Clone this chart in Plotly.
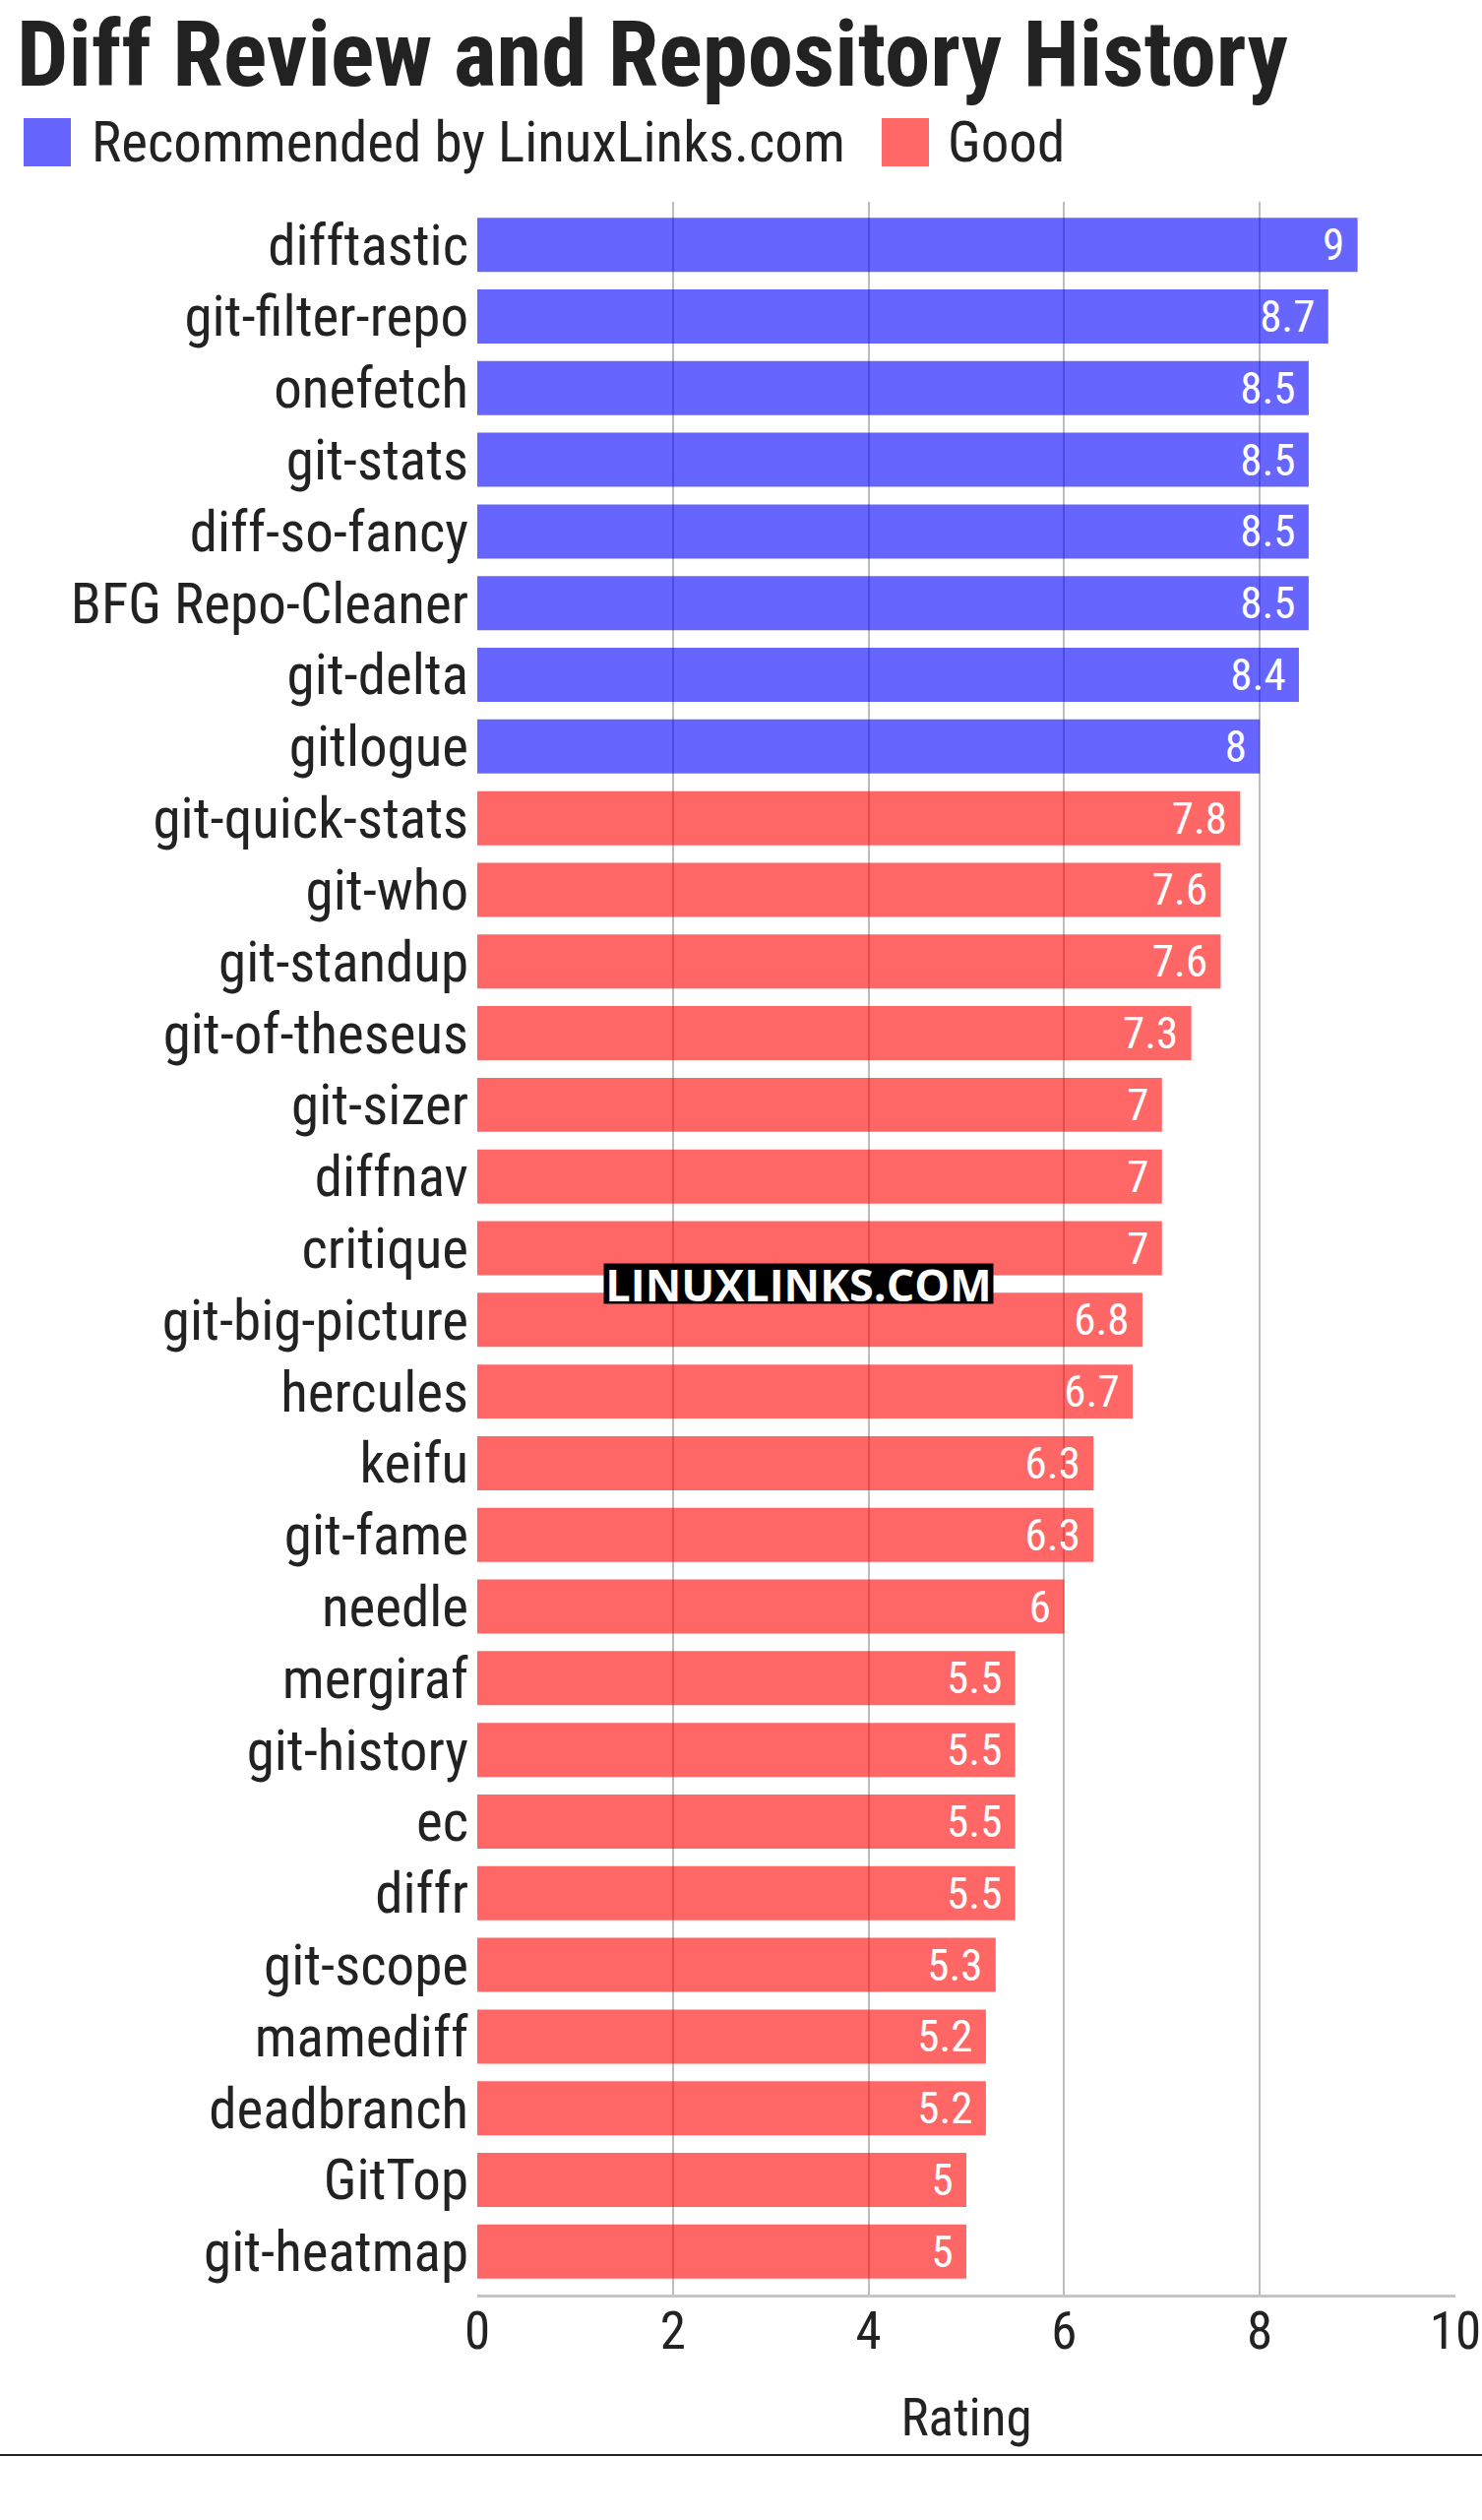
import plotly.graph_objects as go

# ---- data ----
rec_names = ["difftastic", "git-filter-repo", "onefetch", "git-stats", "diff-so-fancy",
             "BFG Repo-Cleaner", "git-delta", "gitlogue"]
rec_values = [9, 8.7, 8.5, 8.5, 8.5, 8.5, 8.4, 8]

good_names = ["git-quick-stats", "git-who", "git-standup", "git-of-theseus", "git-sizer",
              "diffnav", "critique", "git-big-picture", "hercules", "keifu", "git-fame",
              "needle", "mergiraf", "git-history", "ec", "diffr", "git-scope", "mamediff",
              "deadbranch", "GitTop", "git-heatmap"]
good_values = [7.8, 7.6, 7.6, 7.3, 7, 7, 7, 6.8, 6.7, 6.3, 6.3, 6, 5.5, 5.5, 5.5, 5.5,
               5.3, 5.2, 5.2, 5, 5]

x_ticks = [0, 2, 4, 6, 8, 10]
series_names = ["Recommended by LinuxLinks.com", "Good"]
title_text = "Diff Review and Repository History"
x_title = "Rating"
watermark = "LINUXLINKS.COM"

# ---- layout geometry ----
W, H = 1506, 2560
L, R, T, B = 485, 27, 205, 229
FONT = "Roboto Condensed, Liberation Sans Narrow, DejaVu Sans Condensed, Roboto, sans-serif"
TXT = "#222222"
BLUE = "rgba(0,0,255,0.6)"
RED = "rgba(255,0,0,0.6)"


def px_x(px):
    return (px - L) / (W - L - R)


def px_y(py):
    return (H - B - py) / (H - T - B)


all_names = rec_names + good_names
n = len(all_names)

fig = go.Figure()
for names, vals, col, nm in [(rec_names, rec_values, BLUE, series_names[0]),
                             (good_names, good_values, RED, series_names[1])]:
    fig.add_trace(go.Bar(
        y=names, x=vals, orientation="h", name=nm,
        marker=dict(color=col, line=dict(width=0)),
        text=[f"{v:g}\u00a0" for v in vals],
        textposition="inside", insidetextanchor="end", textangle=0,
        constraintext="none",
        textfont=dict(color="white", size=45, family=FONT),
        showlegend=False,
    ))

annotations = [
    dict(text=f"<b>{title_text}</b>", x=px_x(16), y=px_y(0), xref="paper", yref="paper",
         xanchor="left", yanchor="top", showarrow=False, borderpad=0,
         font=dict(size=93, color=TXT, family=FONT)),
    dict(text=series_names[0], x=px_x(91), y=px_y(145), xref="paper", yref="paper",
         xanchor="left", yanchor="middle", showarrow=False,
         font=dict(size=57, color=TXT, family=FONT)),
    dict(text=series_names[1], x=px_x(961), y=px_y(145), xref="paper", yref="paper",
         xanchor="left", yanchor="middle", showarrow=False,
         font=dict(size=57, color=TXT, family=FONT)),
    dict(text=f"<b>{watermark}</b>", x=px_x(811), y=px_y(1304), xref="paper", yref="paper",
         xanchor="center", yanchor="middle", showarrow=False, bgcolor="black",
         borderpad=0, width=395, height=40,
         font=dict(size=45, color="white", family="Open Sans, Ubuntu, sans-serif")),
]

shapes = [
    dict(type="rect", xref="paper", yref="paper", x0=px_x(24), x1=px_x(72),
         y0=px_y(120), y1=px_y(169), fillcolor=BLUE, line=dict(width=0)),
    dict(type="rect", xref="paper", yref="paper", x0=px_x(896), x1=px_x(944),
         y0=px_y(120), y1=px_y(169), fillcolor=RED, line=dict(width=0)),
    dict(type="line", xref="paper", yref="paper", x0=px_x(0), x1=px_x(W),
         y0=px_y(2494), y1=px_y(2494), line=dict(color="#222222", width=2)),
]

fig.update_layout(
    width=W, height=H,
    margin=dict(l=L, r=R, t=T, b=B, pad=0, autoexpand=False),
    paper_bgcolor="white", plot_bgcolor="white",
    barmode="overlay", bargap=0.245,
    font=dict(family=FONT, color=TXT),
    annotations=annotations, shapes=shapes,
    showlegend=False,
    xaxis=dict(range=[0, 10], tickvals=x_ticks, showgrid=True, gridcolor="#bdbdbd",
               gridwidth=2, zeroline=False, showline=True, linecolor="#c4c4c4",
               linewidth=3, ticks="", tickfont=dict(size=53, color=TXT),
               ticklabelstandoff=-12, automargin=False,
               title=dict(text=x_title, font=dict(size=53, color=TXT), standoff=40),
               fixedrange=True),
    yaxis=dict(categoryorder="array", categoryarray=all_names,
               range=[n - 1 + 0.6, -0.6], showgrid=False, zeroline=False,
               ticks="", ticklabelstandoff=8, automargin=False,
               tickfont=dict(size=57, color=TXT),
               fixedrange=True),
)

fig.write_html("out.html")
